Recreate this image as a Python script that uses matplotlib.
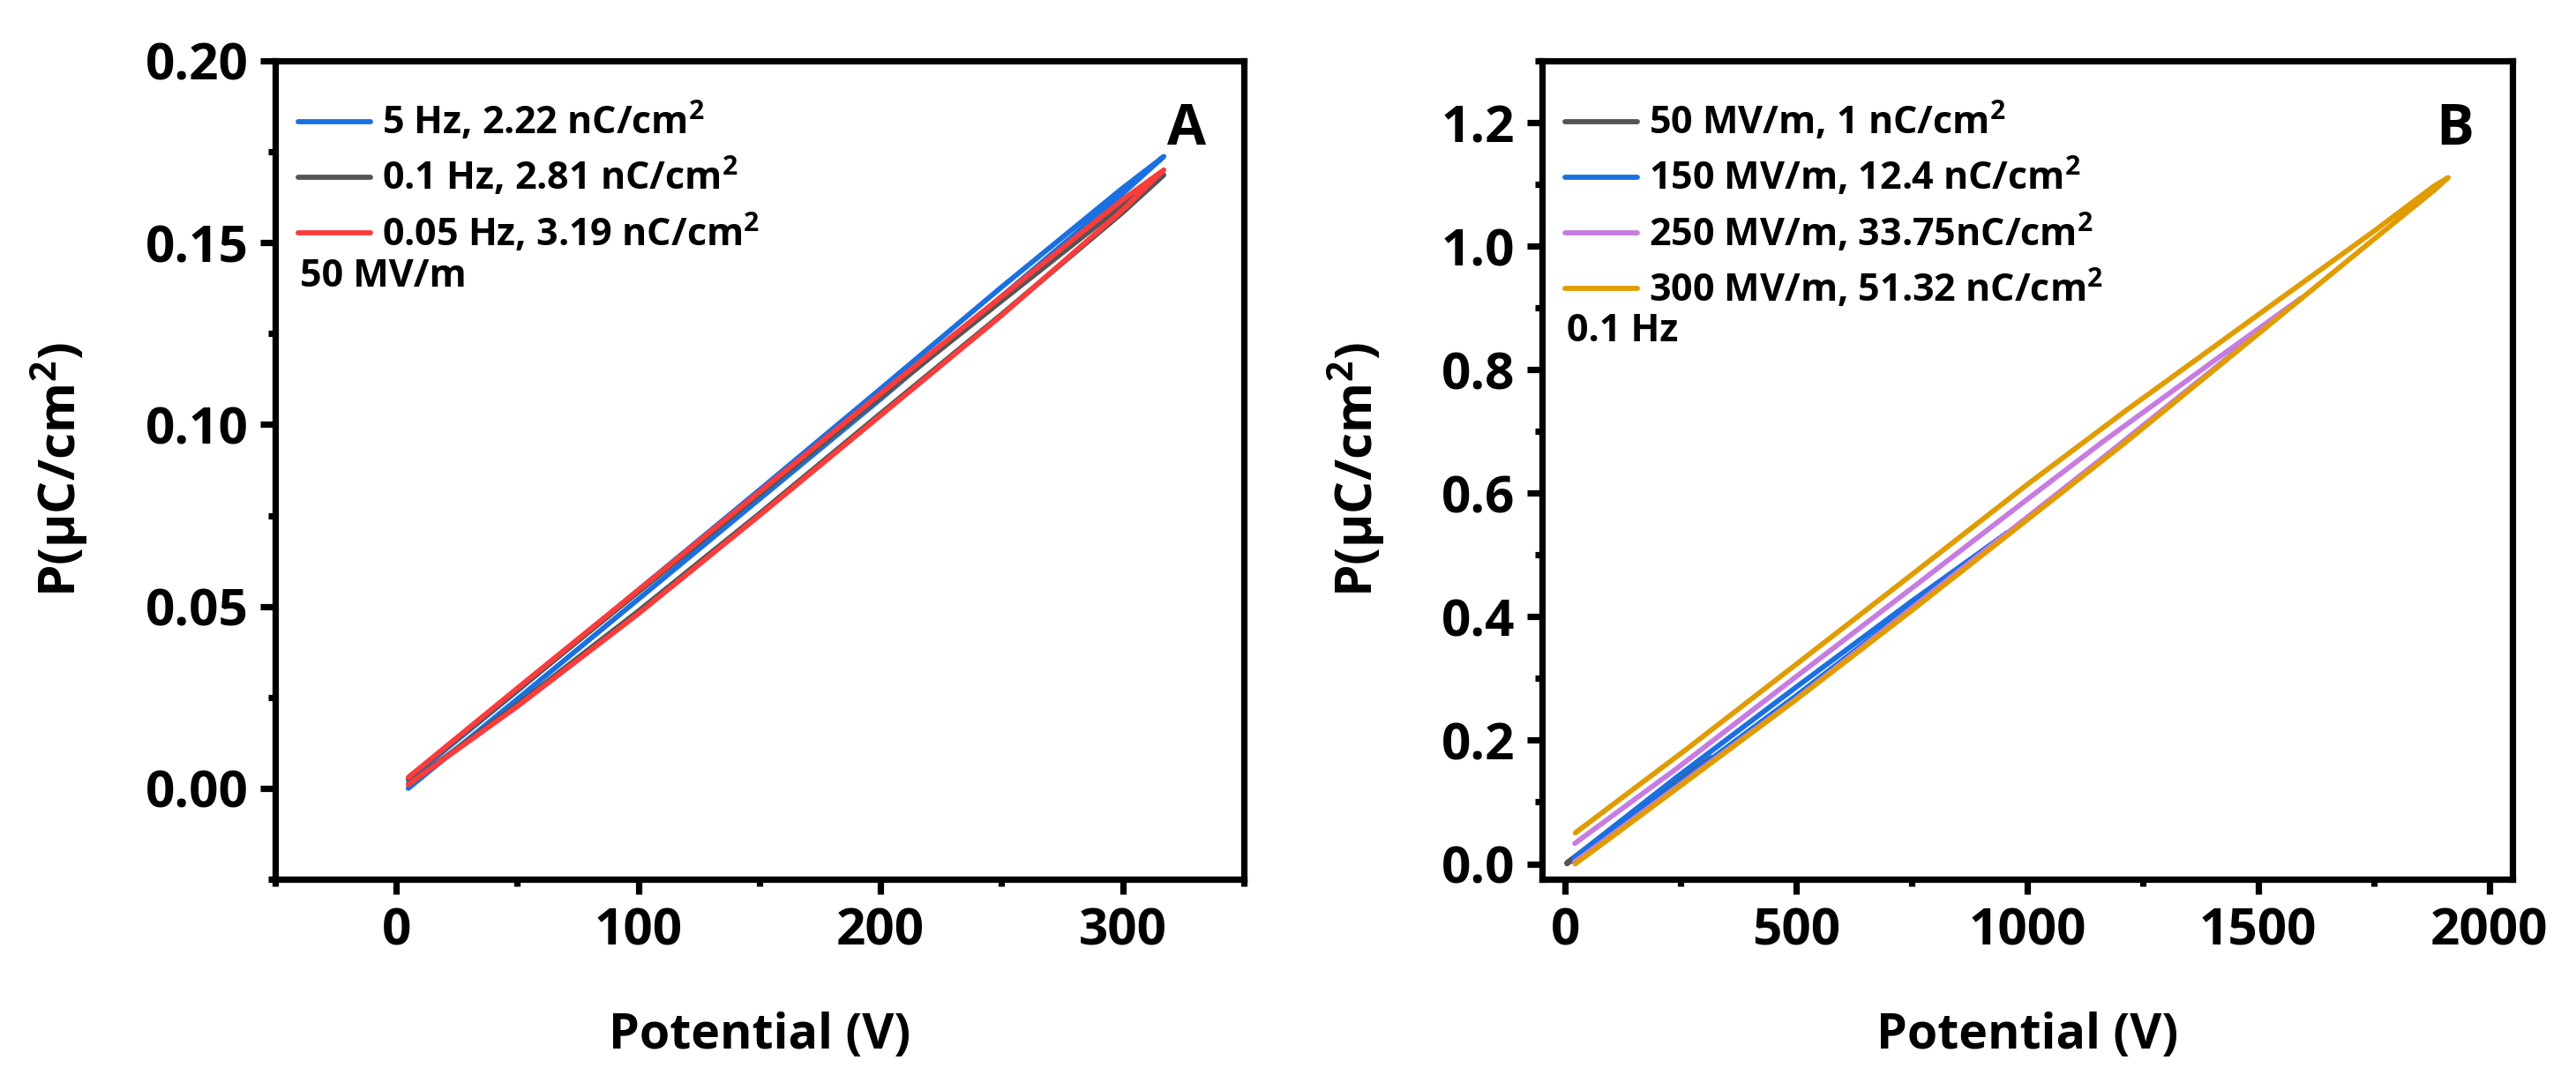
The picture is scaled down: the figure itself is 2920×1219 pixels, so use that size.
import numpy as np
import matplotlib
matplotlib.use('Agg')
import matplotlib.pyplot as plt
from matplotlib.ticker import MultipleLocator, FormatStrFormatter

# ---- panel A: 50 MV/m, different frequencies ----
A_V = [5, 50, 100, 150, 200, 250, 300, 317]
A_5HZ_CHARGE = [0.0000, 0.0245, 0.0520, 0.0795, 0.1070, 0.1352, 0.1635, 0.1737]
A_5HZ_DISCHARGE = [0.0023, 0.0268, 0.0545, 0.0820, 0.1098, 0.1378, 0.1650, 0.1737]
A_01HZ_CHARGE = [0.0012, 0.0230, 0.0487, 0.0755, 0.1030, 0.1303, 0.1583, 0.1686]
A_01HZ_DISCHARGE = [0.0028, 0.0270, 0.0540, 0.0808, 0.1075, 0.1340, 0.1603, 0.1686]
A_005HZ_CHARGE = [0.0010, 0.0225, 0.0480, 0.0750, 0.1025, 0.1300, 0.1590, 0.1700]
A_005HZ_DISCHARGE = [0.0030, 0.0275, 0.0545, 0.0815, 0.1085, 0.1352, 0.1618, 0.1700]
A_LABELS = [r'5 Hz, 2.22 nC/cm$^{2}$', r'0.1 Hz, 2.81 nC/cm$^{2}$',
            r'0.05 Hz, 3.19 nC/cm$^{2}$']

# ---- panel B: 0.1 Hz, different fields ----
B50_V = [4, 100, 200, 317]
B50_CHARGE = [0.000, 0.052, 0.106, 0.172]
B50_DISCHARGE = [0.002, 0.055, 0.110, 0.172]

B150_V = [19, 241, 500, 750, 957]
B150_CHARGE = [0.003, 0.128, 0.272, 0.416, 0.536]
B150_DISCHARGE = [0.010, 0.140, 0.286, 0.425, 0.536]

B250_V = [21, 241, 500, 750, 1000, 1163, 1400, 1593]
B250_CHARGE = [0.003, 0.124, 0.267, 0.414, 0.561, 0.657, 0.799, 0.916]
B250_DISCHARGE = [0.033, 0.154, 0.303, 0.446, 0.590, 0.683, 0.812, 0.916]

B300_V = [22, 100, 260, 495, 750, 1000, 1214, 1500, 1750, 1880, 1911]
B300_CHARGE = [0.000, 0.043, 0.132, 0.263, 0.410, 0.557, 0.683, 0.858, 1.011, 1.090, 1.111]
B300_DISCHARGE = [0.050, 0.094, 0.184, 0.320, 0.468, 0.614, 0.734, 0.889, 1.024, 1.097, 1.111]
B_LABELS = [r'50 MV/m, 1 nC/cm$^{2}$', r'150 MV/m, 12.4 nC/cm$^{2}$',
            r'250 MV/m, 33.75nC/cm$^{2}$', r'300 MV/m, 51.32 nC/cm$^{2}$']

BLUE = '#1a70e0'
GRAY = '#555555'
RED = '#fa3c3c'
PURPLE = '#c77ce0'
ORANGE = '#e09c00'

plt.rcParams['font.family'] = ['Open Sans', 'DejaVu Sans']
plt.rcParams['font.weight'] = 'bold'
plt.rcParams['mathtext.fontset'] = 'custom'
plt.rcParams['mathtext.rm'] = 'Open Sans:bold'
plt.rcParams['mathtext.bf'] = 'Open Sans:bold'
plt.rcParams['mathtext.default'] = 'bf'


def loop(v, charge, discharge):
    v = np.asarray(v)
    x = np.concatenate([v, v[::-1]])
    y = np.concatenate([np.asarray(charge), np.asarray(discharge)[::-1]])
    return x, y


def style_axes(ax):
    for s in ax.spines.values():
        s.set_linewidth(2.6)
    ax.tick_params(which='major', direction='out', length=6, width=2.6,
                   labelsize=21, pad=5)
    ax.tick_params(which='minor', direction='out', length=3, width=2.6)
    for lab in ax.get_xticklabels() + ax.get_yticklabels():
        lab.set_fontweight('bold')
    ax.set_xlabel('Potential (V)', fontsize=20, fontweight='bold', labelpad=22)
    ax.set_ylabel(r'P(µC/cm$^{2}$)', fontsize=21, fontweight='bold', labelpad=22)


def add_legend(ax):
    ax.legend(loc='upper left', bbox_to_anchor=(0.024, 0.952), frameon=False,
              prop={'size': 15.5, 'weight': 'bold'}, handlelength=1.9,
              handletextpad=0.3, labelspacing=0.33, borderpad=0, borderaxespad=0)


fig = plt.figure(figsize=(14.6, 6.095), dpi=200)
axA = fig.add_axes([0.1068, 0.1821, 0.376, 0.7613])
axB = fig.add_axes([0.5986, 0.1821, 0.3767, 0.7613])

lw = 2.1

# panel A
for ch, dis, c, lab in [(A_5HZ_CHARGE, A_5HZ_DISCHARGE, BLUE, A_LABELS[0]),
                        (A_01HZ_CHARGE, A_01HZ_DISCHARGE, GRAY, A_LABELS[1]),
                        (A_005HZ_CHARGE, A_005HZ_DISCHARGE, RED, A_LABELS[2])]:
    x, y = loop(A_V, ch, dis)
    axA.plot(x, y, color=c, lw=lw, label=lab, solid_capstyle='round')
axA.set_xlim(-50, 350)
axA.set_ylim(-0.025, 0.20)
axA.xaxis.set_major_locator(MultipleLocator(100))
axA.xaxis.set_minor_locator(MultipleLocator(50))
axA.yaxis.set_major_locator(MultipleLocator(0.05))
axA.yaxis.set_minor_locator(MultipleLocator(0.025))
axA.yaxis.set_major_formatter(FormatStrFormatter('%.2f'))
style_axes(axA)
add_legend(axA)
axA.text(0.0255, 0.737, '50 MV/m', transform=axA.transAxes, fontsize=15.5,
         fontweight='bold', va='center', ha='left')
axA.text(0.941, 0.915, 'A', transform=axA.transAxes, fontsize=23,
         fontweight='bold', va='center', ha='center')

# panel B
for v, ch, dis, c, lab in [(B50_V, B50_CHARGE, B50_DISCHARGE, GRAY, B_LABELS[0]),
                           (B150_V, B150_CHARGE, B150_DISCHARGE, BLUE, B_LABELS[1]),
                           (B250_V, B250_CHARGE, B250_DISCHARGE, PURPLE, B_LABELS[2]),
                           (B300_V, B300_CHARGE, B300_DISCHARGE, ORANGE, B_LABELS[3])]:
    x, y = loop(v, ch, dis)
    axB.plot(x, y, color=c, lw=lw, label=lab, solid_capstyle='round')
axB.set_xlim(-50, 2050)
axB.set_ylim(-0.025, 1.3)
axB.xaxis.set_major_locator(MultipleLocator(500))
axB.xaxis.set_minor_locator(MultipleLocator(250))
axB.yaxis.set_major_locator(MultipleLocator(0.2))
axB.yaxis.set_minor_locator(MultipleLocator(0.1))
axB.yaxis.set_major_formatter(FormatStrFormatter('%.1f'))
style_axes(axB)
add_legend(axB)
axB.text(0.0255, 0.670, '0.1 Hz', transform=axB.transAxes, fontsize=15.5,
         fontweight='bold', va='center', ha='left')
axB.text(0.941, 0.915, 'B', transform=axB.transAxes, fontsize=23,
         fontweight='bold', va='center', ha='center')

fig.savefig('out.png', dpi=200)
